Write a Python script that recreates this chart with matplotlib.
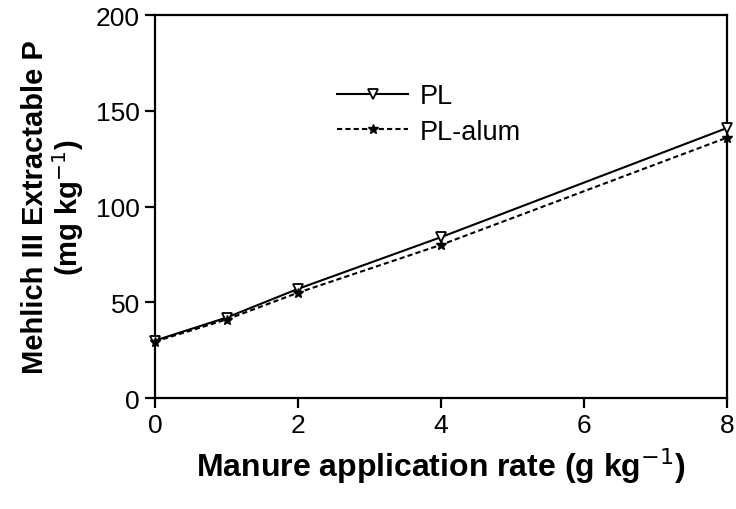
import matplotlib
matplotlib.use("Agg")
import matplotlib.pyplot as plt

# manure rate (g/kg) and Mehlich III P (mg/kg)
rate = [0, 1, 2, 4, 8]
pl = [30, 42, 57, 84, 141]
pl_alum = [29.5, 41, 55, 80, 136]

plt.rcParams['font.family'] = ['Liberation Sans', 'DejaVu Sans']

fig = plt.figure(figsize=(7.36, 5.10), dpi=100)
ax = fig.add_axes([0.2106, 0.2176, 0.7772, 0.751])

ax.plot(rate, pl, color='black', lw=1.5, marker='v', ms=7.5, mfc='white',
        mec='black', mew=1.3, label='PL', clip_on=False, zorder=3)
ax.plot(rate, pl_alum, color='black', lw=1.5, ls=(0, (2.5, 1.5)), marker='*',
        ms=7.5, mfc='black', mec='black', label='PL-alum', clip_on=False, zorder=3)

ax.set_xlim(0, 8)
ax.set_ylim(0, 200)
ax.set_xticks([0, 2, 4, 6, 8])
ax.set_yticks([0, 50, 100, 150, 200])
ax.tick_params(direction='out', length=7, width=1.6, labelsize=19, pad=4)
for s in ax.spines.values():
    s.set_linewidth(1.6)

ax.set_xlabel('Manure application rate (g kg$^{-1}$)', fontsize=23,
              fontweight='bold', labelpad=6)
ax.set_ylabel('Mehlich III Extractable P\n(mg kg$^{-1}$)', fontsize=21,
              fontweight='bold', labelpad=7, linespacing=1.05)

ax.legend(loc='upper left', bbox_to_anchor=(0.3, 0.85), frameon=False,
          fontsize=19.5, handlelength=2.6, handletextpad=0.45, labelspacing=0.35,
          borderaxespad=0)

fig.savefig('out.png', dpi=100)
